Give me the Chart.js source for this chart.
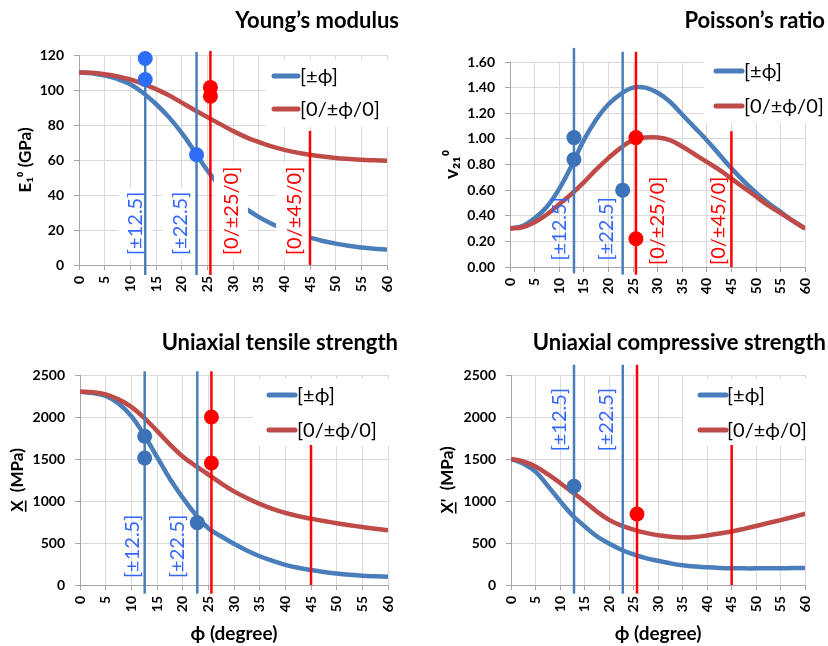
<!DOCTYPE html>
<html><head><meta charset="utf-8">
<script src="https://cdn.jsdelivr.net/npm/chart.js@4.4.0/dist/chart.umd.min.js"></script>
<style>
html,body{margin:0;padding:0;background:#fff;}
#wrap{position:relative;width:828px;height:646px;overflow:hidden;background:#fff;}
.cell{position:absolute;width:414px;height:323px;}
canvas{display:block;}
</style></head><body>
<div id="wrap">
<div class="cell" style="left:0;top:0"><canvas id="c1" width="414" height="323"></canvas></div>
<div class="cell" style="left:414px;top:0"><canvas id="c2" width="414" height="323"></canvas></div>
<div class="cell" style="left:0;top:323px"><canvas id="c3" width="414" height="323"></canvas></div>
<div class="cell" style="left:414px;top:323px"><canvas id="c4" width="414" height="323"></canvas></div>
</div>
<script>
// ---------- DATA ----------
const PHI = [0,2.5,5,7.5,10,12.5,15,17.5,20,22.5,25,27.5,30,32.5,35,37.5,40,42.5,45,47.5,50,52.5,55,57.5,60];
const SERIES_NAMES = ['[±ϕ]', '[0/±ϕ/0]'];

// Young's modulus E1 (GPa)
const E1_PM   = [110,109.5,108.2,106.3,103.3,98.3,92,84.5,75.5,65,54,45,38,32.2,27.5,23.6,20.5,17.8,15.6,13.7,12.2,11,10,9.3,8.8];
const E1_0PM0 = [110,109.8,109,107.8,106,103.5,100.5,97,92.8,88.6,84.5,80.5,76.6,73.1,70.3,67.8,65.8,64.2,63,62,61.2,60.6,60.1,59.8,59.5];
// Poisson's ratio v21
const NU_PM   = [0.30,0.32,0.38,0.47,0.61,0.79,0.99,1.15,1.27,1.35,1.40,1.40,1.36,1.29,1.19,1.09,0.99,0.88,0.77,0.67,0.58,0.50,0.43,0.36,0.30];
const NU_0PM0 = [0.30,0.31,0.35,0.41,0.49,0.57,0.66,0.76,0.85,0.93,0.99,1.01,1.01,0.99,0.94,0.88,0.82,0.76,0.69,0.62,0.55,0.48,0.42,0.36,0.30];
// Uniaxial tensile strength X (MPa)
const XT_PM   = [2300,2285,2250,2160,2010,1785,1525,1265,1040,840,675,580,490,410,342,287,240,205,178,155,137,122,110,103,98];
const XT_0PM0 = [2300,2295,2270,2210,2120,1990,1835,1675,1530,1418,1315,1210,1115,1035,965,905,858,820,790,762,736,712,690,670,652];
// Uniaxial compressive strength X' (MPa)
const XC_PM   = [1500,1445,1350,1180,1000,830,700,580,495,420,365,320,288,258,234,219,210,203,199,198,198,199,200,201,202];
const XC_0PM0 = [1500,1470,1410,1320,1215,1105,995,875,775,708,660,620,592,574,566,572,590,612,637,668,702,738,773,810,848];

// Vertical lay-up lines: [phi, from, to]
const E1_LINES_PM   = [[12.9,-5.7,121],[22.9,-5.7,121.7]];
const E1_LINES_0PM0 = [[25.6,-5.7,122.3],[45,0,76.6]];
const NU_LINES_PM   = [[13.0,-0.05,1.71],[22.9,-0.06,1.68]];
const NU_LINES_0PM0 = [[25.6,-0.06,1.68],[45,0,1.06]];
const XT_LINES_PM   = [[12.6,-103,2544],[22.85,-103,2544]];
const XT_LINES_0PM0 = [[25.6,-103,2544],[45,0,1667]];
const XC_LINES_PM   = [[12.85,-103,2622],[22.8,-103,2622]];
const XC_LINES_0PM0 = [[25.7,-103,2622],[45,0,1667]];

// Experimental points: [phi, value]
const E1_PTS_PM   = [[12.9,118],[12.9,106],[22.9,63]];
const E1_PTS_0PM0 = [[25.6,101.5],[25.6,96.5]];
const NU_PTS_PM   = [[13.0,1.01],[13.0,0.84],[22.9,0.60]];
const NU_PTS_0PM0 = [[25.6,1.01],[25.6,0.22]];
const XT_PTS_PM   = [[12.6,1770],[12.6,1512],[22.85,742]];
const XT_PTS_0PM0 = [[25.6,2000],[25.6,1452]];
const XC_PTS_PM   = [[12.85,1175]];
const XC_PTS_0PM0 = [[25.7,845]];

// Lay-up labels: [text, phi, value at start, series]
const E1_LABELS = [['[±12.5]',10.9,5.7,0],['[±22.5]',19.6,5.7,0],['[0/±25/0]',29.6,5.7,1],['[0/±45/0]',41.7,5.7,1]];
const NU_LABELS = [['[±12.5]',9.8,0.05,0],['[±22.5]',19.5,0.05,0],['[0/±25/0]',29.8,0.016,1],['[0/±45/0]',42.1,0.016,1]];
const XT_LABELS = [['[±12.5]',10.1,83,0],['[±22.5]',18.8,83,0]];
const XC_LABELS = [['[±12.5]',9.7,1591,0],['[±22.5]',19.3,1591,0]];

// ---------- STYLE ----------
const FONT = "Lato, 'Open Sans', 'DejaVu Sans', sans-serif";
const CURVE_COL = ['#4A7EBB', '#BE4B48'];
const VLINE_COL = ['#4A7EBB', '#FF0000'];
const LABEL_COL = ['#3366FF', '#FF0000'];
const GRID = '#D9D9D9';
const AXIS = '#A6A6A6';
const YT_SIZE = 17;

const overlayPlugin = {
  id: 'overlay',
  beforeDatasetsDraw(chart) {
    const o = chart.options.plugins.overlay;
    const ctx = chart.ctx;
    const L = o.legend;
    ctx.save();
    ctx.fillStyle = '#fff';
    ctx.fillRect(L.box[0], L.box[1], L.box[2]-L.box[0], L.box[3]-L.box[1]);
    SERIES_NAMES.forEach((name, i) => {
      ctx.strokeStyle = CURVE_COL[i];
      ctx.lineWidth = 5; ctx.lineCap = 'round';
      ctx.beginPath(); ctx.moveTo(L.sx[0], L.rows[i]); ctx.lineTo(L.sx[1], L.rows[i]); ctx.stroke();
      ctx.fillStyle = '#000';
      ctx.font = '20px ' + FONT;
      ctx.textBaseline = 'middle'; ctx.textAlign = 'left';
      ctx.fillText(name, L.tx, L.rows[i] + 1);
    });
    ctx.restore();
  },
  afterDatasetDraw(chart, args) {
    const ds = chart.data.datasets[args.index];
    if (!ds.labelsAfter) return;
    const o = chart.options.plugins.overlay;
    const ctx = chart.ctx;
    const xs = chart.scales.x, ys = chart.scales.y;
    ctx.save();
    ctx.font = '20px ' + FONT;
    o.labels.forEach(([t, lx, ly, s]) => {
      const px = xs.getPixelForValue(lx), py = ys.getPixelForValue(ly);
      ctx.save();
      ctx.translate(px, py); ctx.rotate(-Math.PI/2);
      ctx.textBaseline = 'middle'; ctx.textAlign = 'left';
      const w = ctx.measureText(t).width;
      if (o.boxes) { ctx.fillStyle = '#fff'; ctx.fillRect(-4, -17, w + 8, 34); }
      ctx.fillStyle = LABEL_COL[s];
      ctx.fillText(t, 0, 1);
      ctx.restore();
    });
    ctx.restore();
  },
  afterDraw(chart) {
    const o = chart.options.plugins.overlay;
    const ctx = chart.ctx;
    ctx.save();
    ctx.font = 'bold 22px ' + FONT;
    ctx.fillStyle = '#000'; ctx.textAlign = 'right'; ctx.textBaseline = 'middle';
    ctx.fillText(o.title, o.titlePos[0], o.titlePos[1]);
    if (o.underline) {
      // underline the leading "X" of the y-axis title
      const ys = chart.scales.y, ca = chart.chartArea;
      const tOpt = ys.options.title;
      ctx.font = 'bold ' + YT_SIZE + 'px ' + FONT;
      const w = ctx.measureText(tOpt.text).width;
      const wX = ctx.measureText('X').width;
      const tx = ys.left + YT_SIZE * 1.2 / 2 + tOpt.padding.top;
      const cy = (ca.top + ca.bottom) / 2;
      ctx.strokeStyle = '#000'; ctx.lineWidth = 1.6;
      ctx.beginPath();
      ctx.moveTo(tx + 8.5, cy + w / 2);
      ctx.lineTo(tx + 8.5, cy + w / 2 - wX);
      ctx.stroke();
    }
    ctx.restore();
  }
};

function pts(arr) { return arr.map(([x, y]) => ({x, y})); }

function build(id, o) {
  const datasets = [];
  datasets.push({label: SERIES_NAMES[0], data: PHI.map((x,i)=>({x, y:o.pm[i]})), borderColor: CURVE_COL[0], borderWidth: 4.5, pointRadius: 0, tension: 0.4, order: 10});
  datasets.push({label: SERIES_NAMES[1], data: PHI.map((x,i)=>({x, y:o.cp[i]})), borderColor: CURVE_COL[1], borderWidth: 4.5, pointRadius: 0, tension: 0.4, order: 9, labelsAfter: true});
  [o.linesPm, o.linesCp].forEach((set, s) => set.forEach(([x, a, b]) => {
    datasets.push({data: [{x, y:a}, {x, y:b}], borderColor: VLINE_COL[s], borderWidth: 2.5, pointRadius: 0, tension: 0, clip: false, order: 5});
  }));
  [o.ptsPm, o.ptsCp].forEach((set, s) => {
    datasets.push({data: pts(set), showLine: false, pointRadius: 7.5, pointHoverRadius: 7.5, pointBorderWidth: 0,
      pointBackgroundColor: s === 0 ? o.dotBlue : '#FF0000', clip: false, order: 1});
  });
  return new Chart(document.getElementById(id), {
    type: 'line',
    data: {datasets},
    options: {
      responsive: false, animation: false, devicePixelRatio: 1,
      layout: {padding: {left: 0, right: o.pr, top: o.pt, bottom: 0}},
      plugins: {
        legend: {display: false}, tooltip: {enabled: false},
        overlay: {title: o.title, titlePos: o.titlePos, legend: o.legend, labels: o.labels, boxes: o.boxes, underline: !!o.underline}
      },
      scales: {
        x: {type: 'linear', min: 0, max: 60,
          ticks: {stepSize: 5, autoSkip: false, minRotation: 90, maxRotation: 90, color: '#000', padding: 6,
            font: {family: FONT, weight: 'bold', size: 14}},
          grid: {color: GRID, tickLength: 5, tickColor: AXIS},
          border: {color: AXIS},
          title: {display: !!o.xTitle, text: o.xTitle || '', color: '#000', font: {family: FONT, weight: 'bold', size: 19}, padding: {top: 0, bottom: 1}},
          afterFit: s => { s.height = o.xh; }
        },
        y: {min: o.ymin, max: o.ymax,
          ticks: {stepSize: o.ystep, color: '#000', padding: 10, font: {family: FONT, weight: 'bold', size: 14},
            callback: v => o.dec ? v.toFixed(o.dec) : v},
          grid: {color: GRID, tickLength: 5, tickColor: AXIS},
          border: {color: AXIS},
          title: {display: true, text: o.yTitle, color: '#000', font: {family: FONT, weight: 'bold', size: o.ytSize || YT_SIZE}, padding: {top: o.ytp, bottom: 0}},
          afterFit: s => { s.width = o.yw; }
        }
      }
    },
    plugins: [overlayPlugin]
  });
}

build('c1', {pm: E1_PM, cp: E1_0PM0, linesPm: E1_LINES_PM, linesCp: E1_LINES_0PM0, ptsPm: E1_PTS_PM, ptsCp: E1_PTS_0PM0,
  labels: E1_LABELS, boxes: true, dotBlue: '#2F6CF6',
  title: 'Young’s modulus', titlePos: [399, 21],
  ymin: 0, ymax: 120, ystep: 20, dec: 0, yTitle: 'E₁⁰ (GPa)', ytp: 15,
  pr: 27, pt: 55, xh: 58, yw: 79,
  legend: {box: [266, 60, 388, 127], sx: [274, 298], rows: [76, 109], tx: 300}});

build('c2', {pm: NU_PM, cp: NU_0PM0, linesPm: NU_LINES_PM, linesCp: NU_LINES_0PM0, ptsPm: NU_PTS_PM, ptsCp: NU_PTS_0PM0,
  labels: NU_LABELS, boxes: false, dotBlue: '#3C72B8',
  title: 'Poisson’s ratio', titlePos: [411, 21],
  ymin: 0, ymax: 1.6, ystep: 0.2, dec: 2, yTitle: 'v₂₁⁰', ytp: 26, ytSize: 19,
  pr: 11, pt: 62, xh: 56, yw: 96,
  legend: {box: [290, 56, 404, 123], sx: [302, 328], rows: [71, 106], tx: 330}});

build('c3', {pm: XT_PM, cp: XT_0PM0, linesPm: XT_LINES_PM, linesCp: XT_LINES_0PM0, ptsPm: XT_PTS_PM, ptsCp: XT_PTS_0PM0,
  labels: XT_LABELS, boxes: false, dotBlue: '#3C72B8',
  title: 'Uniaxial tensile strength', titlePos: [398, 20],
  ymin: 0, ymax: 2500, ystep: 500, dec: 0, yTitle: 'X  (MPa)', ytp: 7, xTitle: 'ϕ (degree)', underline: true,
  pr: 26, pt: 52, xh: 61, yw: 80,
  legend: {box: [253, 56, 389, 123], sx: [269, 295], rows: [72, 107], tx: 297}});

build('c4', {pm: XC_PM, cp: XC_0PM0, linesPm: XC_LINES_PM, linesCp: XC_LINES_0PM0, ptsPm: XC_PTS_PM, ptsCp: XC_PTS_0PM0,
  labels: XC_LABELS, boxes: false, dotBlue: '#3C72B8',
  title: 'Uniaxial compressive strength', titlePos: [412, 20],
  ymin: 0, ymax: 2500, ystep: 500, dec: 0, yTitle: 'X\'  (MPa)', ytp: 23, xTitle: 'ϕ (degree)', underline: true,
  pr: 10, pt: 52, xh: 61, yw: 97,
  legend: {box: [270, 56, 405, 123], sx: [286, 312], rows: [72, 107], tx: 313}});
</script>
</body></html>
